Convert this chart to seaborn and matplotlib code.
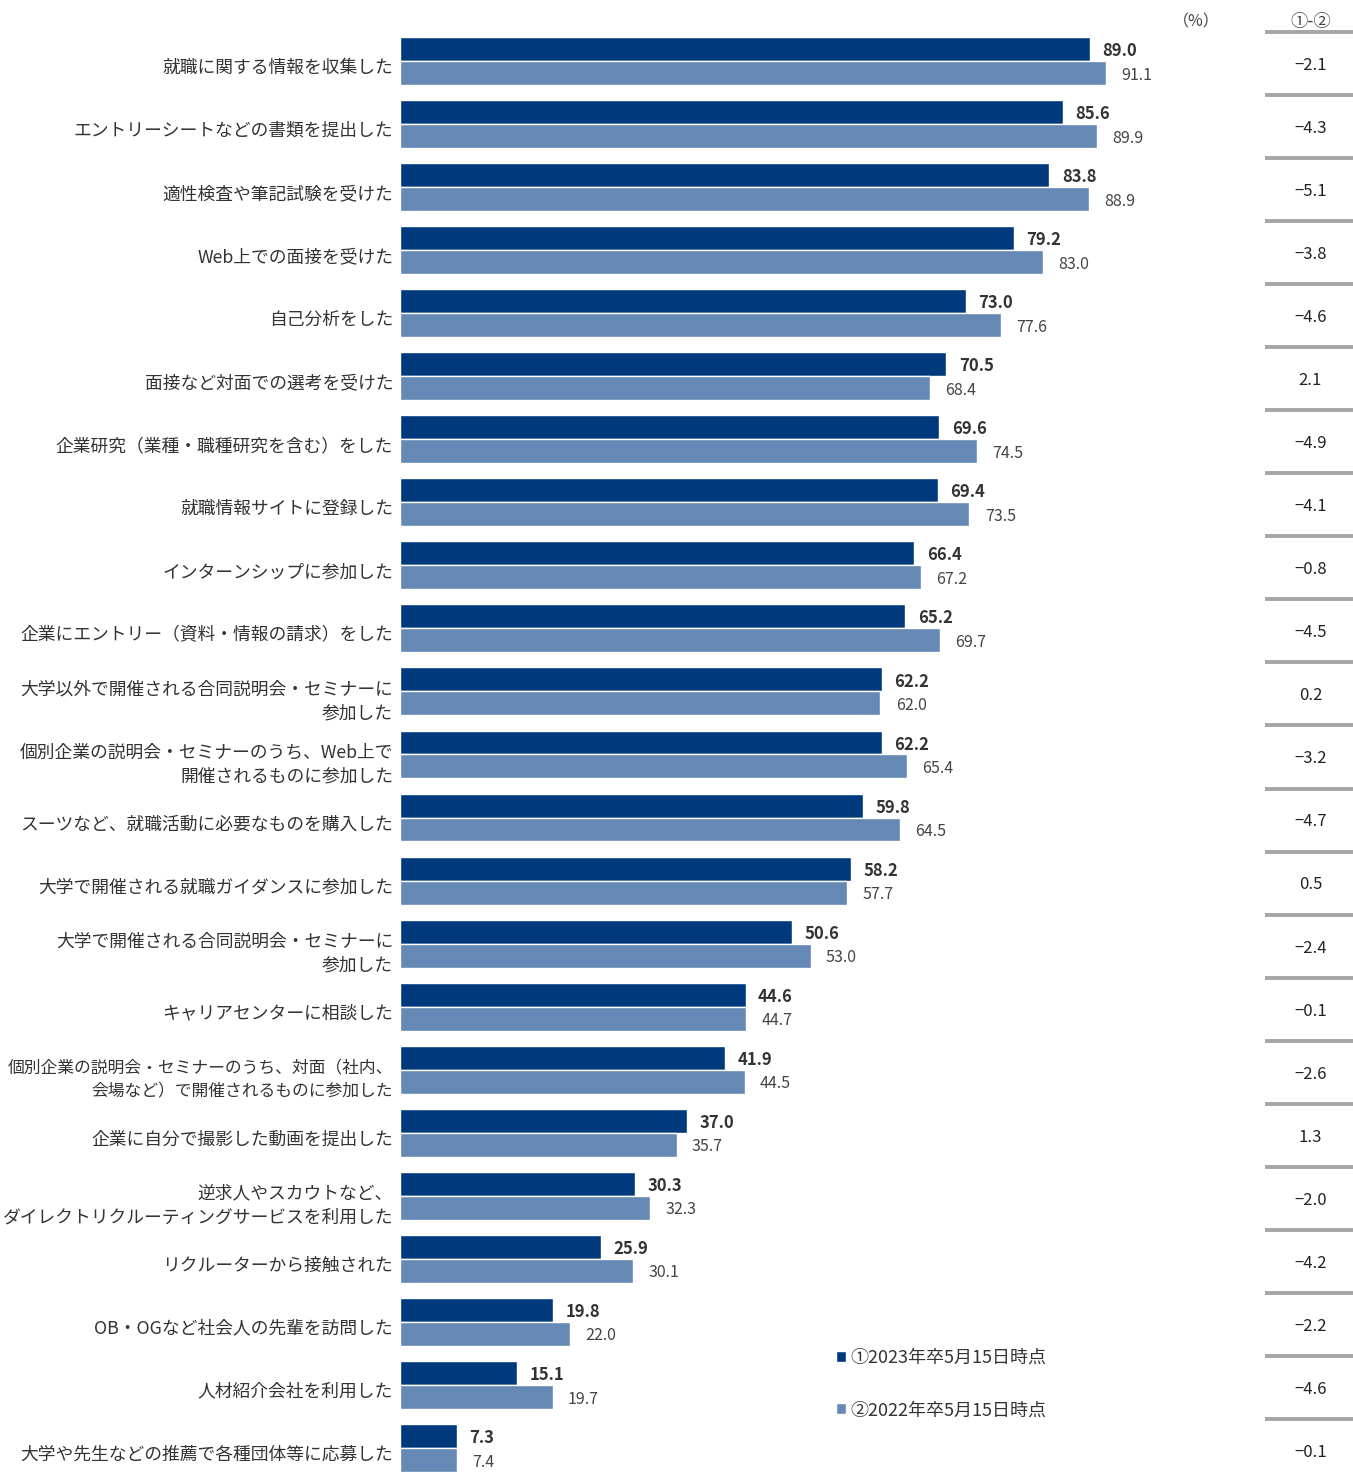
import pandas as pd
import matplotlib.pyplot as plt
import matplotlib.transforms as mtransforms
import seaborn as sns

# data (%)
categories = [
    "就職に関する情報を収集した",
    "エントリーシートなどの書類を提出した",
    "適性検査や筆記試験を受けた",
    "Web上での面接を受けた",
    "自己分析をした",
    "面接など対面での選考を受けた",
    "企業研究（業種・職種研究を含む）をした",
    "就職情報サイトに登録した",
    "インターンシップに参加した",
    "企業にエントリー（資料・情報の請求）をした",
    "大学以外で開催される合同説明会・セミナーに\n参加した",
    "個別企業の説明会・セミナーのうち、Web上で\n開催されるものに参加した",
    "スーツなど、就職活動に必要なものを購入した",
    "大学で開催される就職ガイダンスに参加した",
    "大学で開催される合同説明会・セミナーに\n参加した",
    "キャリアセンターに相談した",
    "個別企業の説明会・セミナーのうち、対面（社内、\n会場など）で開催されるものに参加した",
    "企業に自分で撮影した動画を提出した",
    "逆求人やスカウトなど、\nダイレクトリクルーティングサービスを利用した",
    "リクルーターから接触された",
    "OB・OGなど社会人の先輩を訪問した",
    "人材紹介会社を利用した",
    "大学や先生などの推薦で各種団体等に応募した",
]
y2023 = [89.0, 85.6, 83.8, 79.2, 73.0, 70.5, 69.6, 69.4, 66.4, 65.2, 62.2, 62.2,
         59.8, 58.2, 50.6, 44.6, 41.9, 37.0, 30.3, 25.9, 19.8, 15.1, 7.3]
y2022 = [91.1, 89.9, 88.9, 83.0, 77.6, 68.4, 74.5, 73.5, 67.2, 69.7, 62.0, 65.4,
         64.5, 57.7, 53.0, 44.7, 44.5, 35.7, 32.3, 30.1, 22.0, 19.7, 7.4]
diffs = ["−2.1", "−4.3", "−5.1", "−3.8", "−4.6", "2.1", "−4.9", "−4.1", "−0.8",
         "−4.5", "0.2", "−3.2", "−4.7", "0.5", "−2.4", "−0.1", "−2.6", "1.3",
         "−2.0", "−4.2", "−2.2", "−4.6", "−0.1"]
series = ["①2023年卒5月15日時点", "②2022年卒5月15日時点"]

df = pd.DataFrame({
    "項目": categories * 2,
    "系列": [series[0]] * len(categories) + [series[1]] * len(categories),
    "値": y2023 + y2022,
})

sns.set_theme(style="white")
plt.rcParams["font.family"] = ["Noto Sans CJK JP", "DejaVu Sans"]

dark = "#003A7D"
light = "#6688B4"

fig = plt.figure(figsize=(13.53, 14.78), dpi=100)
ax = fig.add_axes([400 / 1353, 0, 953 / 1353, 1])

sns.barplot(data=df, y="項目", x="値", hue="系列", hue_order=series, orient="h",
            palette=[dark, light], saturation=1, width=0.76, ax=ax)

ax.set_xlim(0, 123)
ax.set_ylim(22.476, -0.967)
sns.despine(ax=ax, left=True, bottom=True)
ax.set_xticks([])
ax.set_xlabel("")
ax.set_ylabel("")
ax.tick_params(axis="y", length=0, pad=5, labelsize=12.8, labelcolor="#333333")

# nudge the category labels down a little
down = mtransforms.ScaledTranslation(0, -3.5 / 72, fig.dpi_scale_trans)
for lbl in ax.get_yticklabels():
    lbl.set_linespacing(1.45)
    lbl.set_transform(lbl.get_transform() + down)
    if len(lbl.get_text().split("\n")[0]) > 22:
        lbl.set_fontsize(12.1)

# value labels
for t in ax.bar_label(ax.containers[0], fmt="%.1f", padding=9, fontsize=12,
                      fontweight="bold", color="#333333"):
    t.xyann = (9, -1.5)
for t in ax.bar_label(ax.containers[1], fmt="%.1f", padding=11, fontsize=11.5,
                      color="#444444"):
    t.xyann = (11, -1.5)

# right column: difference
ax.text(102.8, -0.62, "（%）", ha="center", va="center", fontsize=11.5, color="#444444")
ax.text(117.6, -0.62, "①-②", ha="center", va="center", fontsize=12.5, color="#444444")
for i, d in enumerate(diffs):
    ax.text(117.5, i + 0.07, d, ha="center", va="center", fontsize=12, color="#222222")
    ax.plot([111.7, 123], [i - 0.46, i - 0.46], color="#A6A6A6", lw=2.8,
            solid_capstyle="butt", clip_on=False)

ax.get_legend().remove()
handles = ax.containers
fig.legend([h[0] for h in handles], series, loc="upper left",
           bbox_to_anchor=(836 / 1353, 1 - 1349 / 1478), frameon=False,
           fontsize=13, handlelength=0.55, handleheight=0.55, handletextpad=0.25,
           labelspacing=1.9, borderpad=0, borderaxespad=0, labelcolor="#333333")

fig.savefig("out.png", dpi=100)
